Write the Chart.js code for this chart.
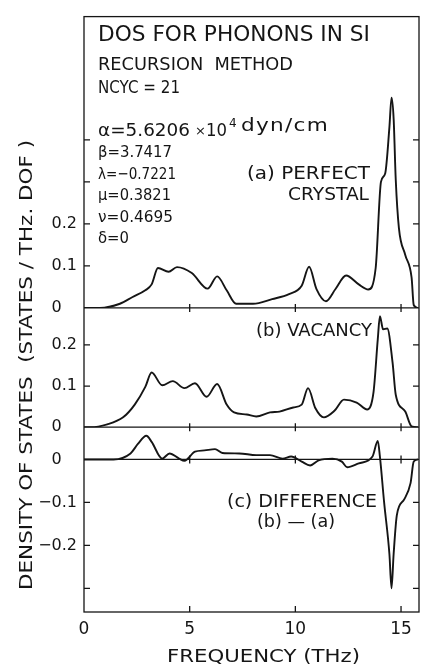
<!DOCTYPE html>
<html>
<head>
<meta charset="utf-8">
<script src="https://cdn.jsdelivr.net/npm/chart.js@4.4.1/dist/chart.umd.min.js"></script>
<style>
  html, body { margin: 0; padding: 0; background: #fff; }
  #wrap { width: 429px; height: 665px; position: relative; }
</style>
</head>
<body>
<div id="wrap"><canvas id="dos"></canvas></div>
<script>
// frequency axis (THz)
const freqTicks = [0, 5, 10, 15];

// (a) perfect crystal
const freqA = [0, 0.75, 1.7, 2.3, 2.9, 3.2, 3.5, 4.0, 4.4, 5.1, 5.85, 6.3, 6.75, 7.2, 8.0, 8.9, 9.7, 10.3, 10.65, 11.0, 11.45, 11.9, 12.4, 13.0, 13.45, 13.8, 14.05, 14.25, 14.45, 14.55, 14.65, 14.75, 14.9, 15.2, 15.5, 15.6, 15.8];
const dosA = [0, 0, 0.01, 0.026, 0.042, 0.056, 0.095, 0.086, 0.097, 0.083, 0.046, 0.075, 0.042, 0.01, 0.01, 0.021, 0.033, 0.053, 0.098, 0.045, 0.016, 0.045, 0.077, 0.056, 0.044, 0.095, 0.30, 0.32, 0.43, 0.5, 0.45, 0.305, 0.19, 0.126, 0.072, 0.007, 0];

// (b) vacancy
const freqB = [0, 0.3, 1.1, 1.85, 2.4, 2.9, 3.2, 3.7, 4.2, 4.75, 5.25, 5.8, 6.3, 6.75, 7.1, 7.7, 8.15, 8.8, 9.25, 9.9, 10.3, 10.6, 10.95, 11.35, 11.85, 12.3, 12.9, 13.4, 13.7, 13.9, 14.0, 14.15, 14.35, 14.6, 14.75, 15.2, 15.5, 15.8];
const dosB = [0, 0, 0.007, 0.024, 0.055, 0.098, 0.133, 0.102, 0.112, 0.095, 0.107, 0.074, 0.105, 0.055, 0.036, 0.031, 0.026, 0.036, 0.038, 0.048, 0.055, 0.095, 0.046, 0.024, 0.04, 0.067, 0.06, 0.043, 0.086, 0.214, 0.27, 0.238, 0.24, 0.157, 0.079, 0.038, 0.002, 0];

// (c) difference (b) - (a)
const freqC = [0, 1.4, 2.2, 2.55, 2.95, 3.2, 3.7, 4.05, 4.5, 4.75, 5.25, 5.7, 6.2, 6.55, 7.35, 8.15, 8.8, 9.4, 9.8, 10.3, 10.7, 11.1, 11.75, 12.2, 12.45, 13.0, 13.65, 13.9, 14.0, 14.2, 14.45, 14.55, 14.65, 14.8, 15.15, 15.45, 15.6, 15.8];
const dosC = [0, 0, 0.014, 0.036, 0.055, 0.041, 0.002, 0.014, 0.002, -0.003, 0.018, 0.021, 0.024, 0.015, 0.014, 0.01, 0.01, 0.002, 0.007, -0.005, -0.014, -0.002, 0.002, -0.005, -0.018, -0.009, 0.007, 0.043, 0.007, -0.1, -0.22, -0.30, -0.22, -0.13, -0.093, -0.055, -0.005, 0];

// y ticks per panel and their labels ('' = tick without label)
const ticksA = [0, 0.1, 0.2, 0.3, 0.4];
const labelsA = ['0', '0.1', '0.2', '', ''];
const ticksB = [0, 0.1, 0.2];
const labelsB = ['0', '0.1', '0.2'];
const ticksC = [0, -0.1, -0.2, -0.3];
const labelsC = ['0', '\u22120.1', '\u22120.2', ''];

const FONT = '"DejaVu Sans", sans-serif';
const INK = '#151515';

const pts = (xs, ys) => xs.map((x, i) => ({ x: x, y: ys[i] }));

function setTicks(values) {
  return scale => { scale.ticks = values.map(v => ({ value: v })); };
}
function tickText(values, labels) {
  return v => {
    const i = values.findIndex(t => Math.abs(t - v) < 1e-9);
    if (i < 0) return '';
    let s = labels[i];
    if (s === '0') s = '0\u2008\u2007'; // keep the 0 aligned with 0.1
    return s;
  };
}

function yScale(ticks, labels, min, max, w, order) {
  return {
    type: 'linear', position: 'left', stack: 'panels', stackWeight: w, weight: order,
    min: min, max: max,
    afterBuildTicks: setTicks(ticks),
    afterFit: s => { s.width = 84; },
    grid: { display: false, drawTicks: false },
    border: { display: false },
    ticks: { color: INK, font: { family: FONT, size: 16 }, padding: 7, callback: tickText(ticks, labels) }
  };
}

// text squeezed/stretched to a given width (lettering in the original is wide)
function txt(ctx, s, x, y, size, width) {
  ctx.font = size + 'px ' + FONT;
  ctx.letterSpacing = '0px';
  let sx = 1;
  if (width) {
    const w = ctx.measureText(s).width;
    sx = Math.min(1.2, Math.max(0.8, width / w));
    ctx.letterSpacing = ((width / sx - w) / s.length) + 'px';
  }
  ctx.save();
  ctx.translate(x, y);
  ctx.scale(sx, 1);
  ctx.fillText(s, 0, 0);
  ctx.restore();
  ctx.letterSpacing = '0px';
}

const frame = {
  id: 'frame',
  afterDatasetsDraw(chart) {
    const ctx = chart.ctx, a = chart.chartArea;
    const x = chart.scales.x, ya = chart.scales.ya, yb = chart.scales.yb, yc = chart.scales.yc;
    ctx.save();
    ctx.strokeStyle = INK;
    ctx.lineWidth = 1.3;
    ctx.strokeRect(a.left, a.top, a.right - a.left, a.bottom - a.top);
    ctx.beginPath();
    [ya.bottom, yb.bottom].forEach(y => { ctx.moveTo(a.left, y); ctx.lineTo(a.right, y); });
    const z = yc.getPixelForValue(0);
    ctx.moveTo(a.left, z); ctx.lineTo(a.right, z);
    // y ticks inward on both sides
    [[ya, ticksA], [yb, ticksB], [yc, ticksC]].forEach(([s, tv]) => {
      tv.forEach(v => {
        const y = s.getPixelForValue(v);
        ctx.moveTo(a.left, y); ctx.lineTo(a.left + 6, y);
        ctx.moveTo(a.right, y); ctx.lineTo(a.right - 6, y);
      });
    });
    // x ticks
    freqTicks.forEach(v => {
      if (v === 0) return;
      const px = x.getPixelForValue(v);
      [ya.bottom, yb.bottom, z].forEach(y => { ctx.moveTo(px, y - 4); ctx.lineTo(px, y + 4); });
      ctx.moveTo(px, a.bottom); ctx.lineTo(px, a.bottom - 6);
    });
    ctx.stroke();

    // annotations
    ctx.fillStyle = INK;
    ctx.textAlign = 'left';
    ctx.textBaseline = 'alphabetic';
    txt(ctx, 'DOS FOR PHONONS IN SI', 98, 41, 21, 272);
    txt(ctx, 'RECURSION  METHOD', 98, 70, 17, 195);
    txt(ctx, 'NCYC = 21', 98, 93, 17, 82);
    txt(ctx, '\u03b1=5.6206', 98, 136, 17, 92);
    txt(ctx, '\u00d7', 195, 135, 13);
    txt(ctx, '10', 206, 136, 17, 21);
    txt(ctx, '4', 229, 127, 12);
    txt(ctx, 'dyn/cm', 241, 131, 18, 88);
    txt(ctx, '\u03b2=3.7417', 98, 157, 16, 74);
    txt(ctx, '\u03bb=\u22120.7221', 98, 179, 16, 78);
    txt(ctx, '\u03bc=0.3821', 98, 200, 16, 73);
    txt(ctx, '\u03bd=0.4695', 98, 222, 16, 75);
    txt(ctx, '\u03b4=0', 98, 243, 16, 31);
    txt(ctx, '(a) PERFECT', 247, 179, 17, 123);
    txt(ctx, 'CRYSTAL', 288, 200, 17, 81);
    txt(ctx, '(b) VACANCY', 256, 336, 17, 116);
    txt(ctx, '(c) DIFFERENCE', 227, 507, 17, 150);
    txt(ctx, '(b) \u2014 (a)', 257, 527, 17, 78);
    txt(ctx, 'FREQUENCY (THz)', 167, 662, 18, 193);

    ctx.save();
    ctx.translate(32, 590);
    ctx.rotate(-Math.PI / 2);
    txt(ctx, 'DENSITY OF STATES  (STATES / THz. DOF )', 0, 0, 18, 450);
    ctx.restore();
    ctx.restore();
  }
};

const line = (data, axis) => ({
  data: data, yAxisID: axis, borderColor: INK, borderWidth: 1.9,
  pointRadius: 0, fill: false, cubicInterpolationMode: 'monotone'
});

new Chart(document.getElementById('dos'), {
  type: 'line',
  data: {
    datasets: [
      line(pts(freqA, dosA), 'ya'),
      line(pts(freqB, dosB), 'yb'),
      line(pts(freqC, dosC), 'yc')
    ]
  },
  options: {
    responsive: true,
    maintainAspectRatio: false,
    animation: false,
    layout: { padding: { top: 3, right: 10, left: 0, bottom: 0 } },
    plugins: { legend: { display: false }, tooltip: { enabled: false } },
    scales: {
      x: {
        type: 'linear', min: 0, max: 15.85,
        afterBuildTicks: setTicks(freqTicks),
        afterFit: s => { s.height = 53; },
        grid: { display: false, drawTicks: false },
        border: { display: false },
        ticks: { color: INK, font: { family: FONT, size: 17 }, padding: 7 }
      },
      ya: yScale(ticksA, labelsA, 0, 0.693, 298, 3),
      yb: yScale(ticksB, labelsB, 0, 0.29, 122, 2),
      yc: yScale(ticksC, labelsC, -0.355, 0.075, 189, 1)
    }
  },
  plugins: [frame]
});
</script>
</body>
</html>
